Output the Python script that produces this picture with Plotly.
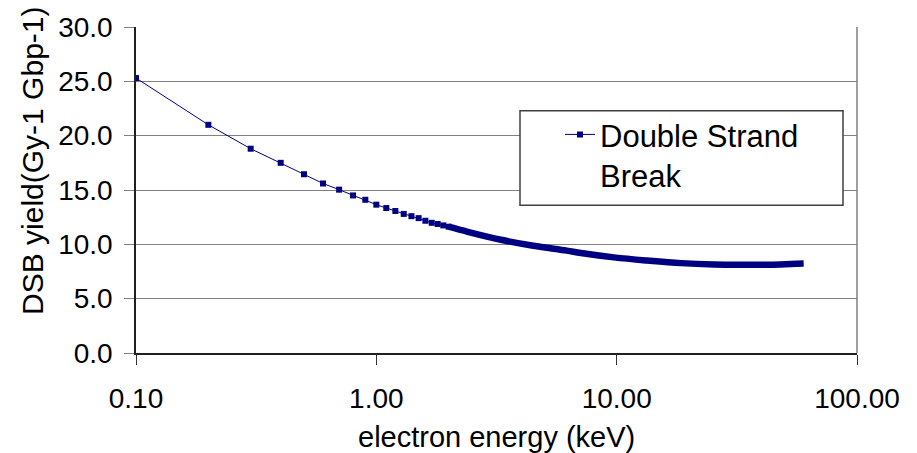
import plotly.graph_objects as go

# Discrete (resolvable) markers, electron energy in keV
energy_markers = [0.1, 0.2, 0.3, 0.4, 0.5, 0.6, 0.7, 0.8, 0.9, 1.0,
                  1.1, 1.2, 1.3, 1.4, 1.5, 1.6, 1.7, 1.8, 1.9, 2.0]
dsb_markers = [25.3, 21.0, 18.8, 17.5, 16.45, 15.6, 15.03, 14.5, 14.1, 13.65,
               13.34, 13.07, 12.8, 12.59, 12.41, 12.17, 11.98, 11.87, 11.74, 11.62]

# Dense region where markers merge into a solid band
energy_band = [2.0, 2.4, 3.3, 4.5, 6.2, 7.1, 9.75, 13.4, 18.5, 25.4, 35.0, 48.0, 56.0, 60.0]
dsb_band = [11.62, 11.15, 10.42, 9.87, 9.42, 9.2, 8.8, 8.51, 8.27, 8.15, 8.13, 8.15, 8.22, 8.24]

y_ticks = [0, 5, 10, 15, 20, 25, 30]
x_ticks = [0.1, 1, 10, 100]
x_ticklabels = ["0.10", "1.00", "10.00", "100.00"]

NAVY = "#000080"
FONT = "Liberation Sans, Arial, sans-serif"

fig = go.Figure()
fig.add_trace(go.Scatter(
    x=energy_band, y=dsb_band, mode="lines", showlegend=False,
    line=dict(color=NAVY, width=6.5, shape="spline"), hoverinfo="skip"))
fig.add_trace(go.Scatter(
    x=energy_markers, y=dsb_markers, mode="lines+markers",
    name="Double Strand<br>Break",
    line=dict(color=NAVY, width=1),
    marker=dict(symbol="square", size=6, color=NAVY)))

L, R, T, B = 136, 60, 22, 100
W, H = 917, 453
pw = W - L - R
ph = H - T - B

def px_x(x):
    return (x - L) / pw

def px_y(y):
    return (H - B - y) / ph

fig.update_layout(
    width=W, height=H,
    margin=dict(l=L, r=R, t=T, b=B),
    paper_bgcolor="white", plot_bgcolor="white",
    font=dict(family=FONT, size=28, color="black"),
    xaxis=dict(
        type="log", range=[-1, 2],
        tickvals=x_ticks, ticktext=x_ticklabels,
        showgrid=False, zeroline=False,
        showline=True, linecolor="#202020", linewidth=1.5,
        mirror=False,
        ticks="outside", ticklen=10, tickcolor="#303030",
        tickfont=dict(size=28),
        ticklabelstandoff=10,
    ),
    yaxis=dict(
        range=[0, 30], tickvals=y_ticks, tickformat=".1f",
        showgrid=True, gridcolor="#808080", gridwidth=1,
        zeroline=False,
        showline=True, linecolor="#202020", linewidth=1.5,
        ticks="outside", ticklen=10, tickcolor="#808080",
        tickfont=dict(size=28),
        ticklabelstandoff=6,
    ),
    legend=dict(
        x=px_x(560), y=px_y(104), xanchor="left", yanchor="top",
        bgcolor="rgba(0,0,0,0)", borderwidth=0,
        font=dict(size=31, family=FONT), valign="top",
        itemwidth=30,
    ),
    shapes=[
        # right border of plot area
        dict(type="line", xref="paper", yref="paper", x0=1, x1=1, y0=0, y1=1,
             line=dict(color="#808080", width=1.5)),
        # legend box
        dict(type="rect", xref="paper", yref="paper",
             x0=px_x(520), x1=px_x(843), y0=px_y(203), y1=px_y(107),
             line=dict(color="#404040", width=1.5), fillcolor="white", layer="above"),
    ],
    annotations=[
        dict(text="DSB yield(Gy-1 Gbp-1)", textangle=-90, showarrow=False,
             xref="paper", yref="paper", x=px_x(33), y=px_y(158),
             xanchor="center", yanchor="middle", font=dict(size=30)),
        dict(text="electron energy (keV)", showarrow=False,
             xref="paper", yref="paper", x=0.5, y=px_y(438),
             xanchor="center", yanchor="middle", font=dict(size=29)),
    ],
)

fig.write_html("out.html")
